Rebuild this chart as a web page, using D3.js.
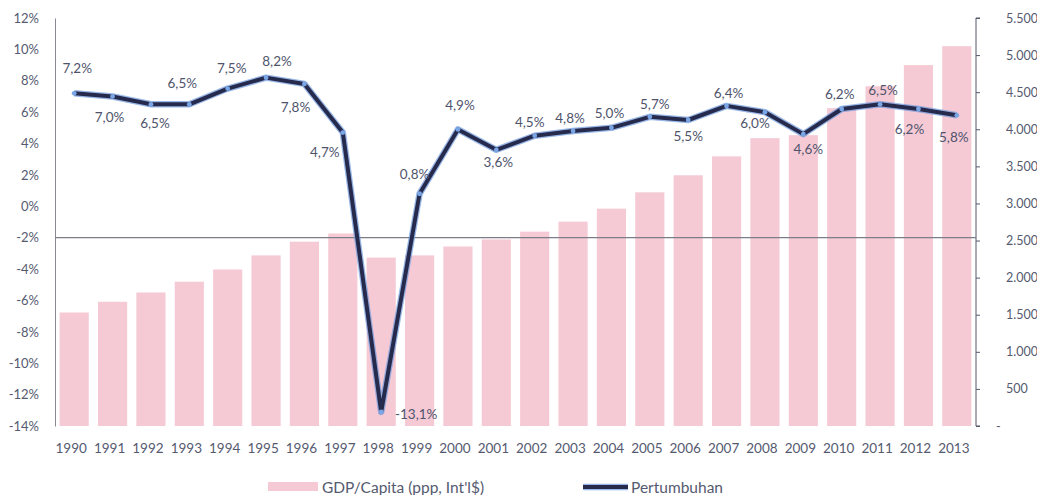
<!DOCTYPE html>
<html>
<head>
<meta charset="utf-8">
<script src="https://cdn.jsdelivr.net/npm/d3@7"></script>
<style>
  body { margin: 0; background: #fff; }
  svg text { font-family: Lato, "Open Sans", sans-serif; fill: #555a70; }
</style>
</head>
<body>
<svg id="chart"></svg>
<script>
const years = ["1990","1991","1992","1993","1994","1995","1996","1997","1998","1999","2000","2001",
  "2002","2003","2004","2005","2006","2007","2008","2009","2010","2011","2012","2013"];
const gdpCapita = [1530, 1675, 1800, 1945, 2110, 2300, 2485, 2595, 2270, 2300, 2420, 2515,
  2620, 2755, 2930, 3150, 3380, 3635, 3880, 3920, 4285, 4580, 4865, 5120];
const growth = [7.2, 7.0, 6.5, 6.5, 7.5, 8.2, 7.8, 4.7, -13.1, 0.8, 4.9, 3.6,
  4.5, 4.8, 5.0, 5.7, 5.5, 6.4, 6.0, 4.6, 6.2, 6.5, 6.2, 5.8];
const leftTicks = [12, 10, 8, 6, 4, 2, 0, -2, -4, -6, -8, -10, -12, -14];
const rightTicks = [0, 500, 1000, 1500, 2000, 2500, 3000, 3500, 4000, 4500, 5000, 5500];
const legendLabels = ["GDP/Capita (ppp, Int'l$)", "Pertumbuhan"];

// where each data label sits relative to its point [dx, dy]
const labelOffset = [[3,-25],[-3,21],[4,19],[-7,-21],[4,-21],[11,-17],[-9,23],[-18,19],[35,2],[-5,-20],
  [2,-24],[2,12],[-5,-14],[-3,-13],[-2,-15],[5,-13],[0,16],[2,-13],[-10,11],[5,15],[-2,-15],[3,-14],[-9,20],[-3,22]];

const W = 1037, H = 495;
const svg = d3.select("#chart").attr("width", W).attr("height", H);

const plotL = 55, plotR = 976, plotT = 18, plotB = 426;

const x = d3.scaleBand().domain(years).range([plotL, plotR]).paddingInner(0.24).paddingOuter(0.12);
const yL = d3.scaleLinear().domain([-14, 12]).range([plotB, plotT]);
const yR = d3.scaleLinear().domain([0, 5500]).range([plotB, plotT]);

const fmtPct = d => d3.format(".1f")(d).replace(".", ",").replace("\u2212", "-") + "%";
const fmtNum = d => d === 0 ? "-" : d3.format(",")(d).replace(/,/g, ".");

// bars
svg.append("g").selectAll("rect")
  .data(gdpCapita)
  .join("rect")
  .attr("x", (d, i) => x(years[i]))
  .attr("y", d => yR(d))
  .attr("width", x.bandwidth())
  .attr("height", d => yR(0) - yR(d))
  .attr("fill", "#f5cad5");

// left axis
const axL = svg.append("g").attr("transform", `translate(${plotL},0)`)
  .call(d3.axisLeft(yL).tickValues(leftTicks).tickSize(0).tickPadding(16).tickFormat(d => String(d) + "%"));
axL.select(".domain").attr("stroke", "#8a8a94");
axL.selectAll("text").style("font-size", "13px").style("fill", "#555a70");

// right axis
const axR = svg.append("g").attr("transform", `translate(${plotR},0)`)
  .call(d3.axisRight(yR).tickValues(rightTicks).tickSize(4).tickPadding(26).tickFormat(fmtNum));
axR.select(".domain").attr("stroke", "#55596a").attr("d", `M4,${plotB}H0V${plotT}H4`);
axR.selectAll(".tick line").attr("stroke", "#55596a");
axR.selectAll("text").style("font-size", "12.5px").style("fill", "#555a70");
axR.selectAll(".tick").filter(d => d === 0).select("text").attr("x", 20);

// category axis line crossing at -2%
svg.append("line")
  .attr("x1", plotL).attr("x2", plotR)
  .attr("y1", yL(-2)).attr("y2", yL(-2))
  .attr("stroke", "#7d7d88").attr("stroke-width", 1.2);

// year labels
svg.append("g").selectAll("text")
  .data(years)
  .join("text")
  .attr("x", d => x(d) + x.bandwidth() / 2 - 3)
  .attr("y", 448)
  .attr("text-anchor", "middle")
  .attr("dominant-baseline", "central")
  .style("font-size", "13.5px")
  .text(d => d);

// growth line
const cx = i => x(years[i]) + x.bandwidth() / 2;
const line = d3.line().x((d, i) => cx(i)).y(d => yL(d));

svg.append("path").datum(growth)
  .attr("d", line).attr("fill", "none")
  .attr("stroke", "#6d98dc").attr("stroke-width", 6.5).attr("stroke-linejoin", "round").attr("opacity", 0.7);
svg.append("path").datum(growth)
  .attr("d", line).attr("fill", "none")
  .attr("stroke", "#262b4e").attr("stroke-width", 4).attr("stroke-linejoin", "round");
svg.append("g").selectAll("circle")
  .data(growth)
  .join("circle")
  .attr("cx", (d, i) => cx(i))
  .attr("cy", d => yL(d))
  .attr("r", 2.4)
  .attr("fill", "#7aa6e6");

// data labels
svg.append("g").selectAll("text")
  .data(growth)
  .join("text")
  .attr("x", (d, i) => cx(i) + labelOffset[i][0])
  .attr("y", (d, i) => yL(d) + labelOffset[i][1])
  .attr("text-anchor", "middle")
  .attr("dominant-baseline", "central")
  .style("font-size", "13.5px")
  .style("fill", "#4f546c")
  .text(fmtPct);

// legend
const lg = svg.append("g");
lg.append("rect").attr("x", 268).attr("y", 482).attr("width", 50).attr("height", 9).attr("fill", "#f5cad5");
lg.append("text").attr("x", 322).attr("y", 487).attr("dominant-baseline", "central")
  .style("font-size", "15.5px").text(legendLabels[0]);
lg.append("line").attr("x1", 583).attr("x2", 628).attr("y1", 487).attr("y2", 487)
  .attr("stroke", "#6d98dc").attr("stroke-width", 6.5).attr("opacity", 0.7);
lg.append("line").attr("x1", 583).attr("x2", 628).attr("y1", 487).attr("y2", 487)
  .attr("stroke", "#262b4e").attr("stroke-width", 4);
lg.append("text").attr("x", 631).attr("y", 487).attr("dominant-baseline", "central")
  .style("font-size", "15.5px").text(legendLabels[1]);
</script>
</body>
</html>
